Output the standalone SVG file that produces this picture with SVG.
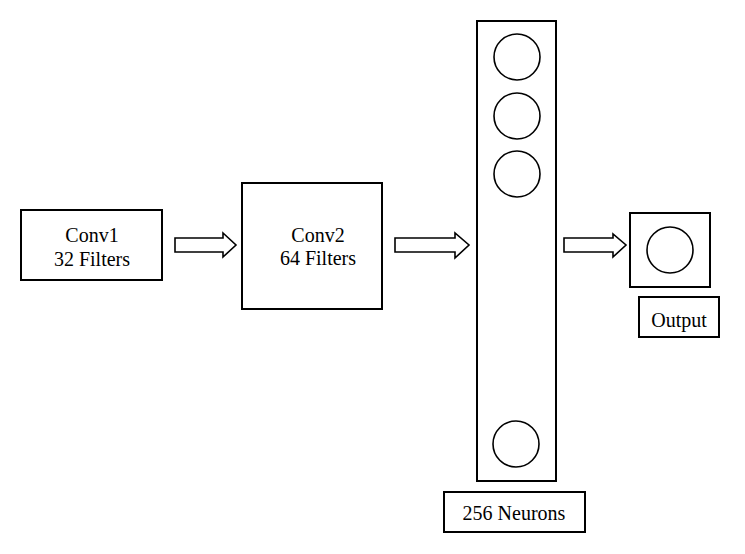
<svg xmlns="http://www.w3.org/2000/svg" width="745" height="554" viewBox="0 0 745 554">
<style>
.box{fill:#fff;stroke:#000;stroke-width:2}
.neuron{fill:#fff;stroke:#000;stroke-width:1.6}
.arrow{fill:#fff;stroke:#000;stroke-width:1.6;stroke-linejoin:miter}
.t{font-family:'Liberation Serif','DejaVu Serif',serif;font-size:20px;fill:#000;text-anchor:middle}
</style>
<rect width="745" height="554" fill="#fff"/>
<g id="conv1">
<rect class="box" x="21" y="210" width="141" height="70"/>
<text class="t" x="92" y="242" font-family="Liberation Serif, serif">Conv1</text>
<text class="t" x="92" y="266" font-family="Liberation Serif, serif">32 Filters</text>
</g>
<g id="conv2">
<rect class="box" x="242" y="183" width="140" height="126"/>
<text class="t" x="318" y="242" font-family="Liberation Serif, serif">Conv2</text>
<text class="t" x="318" y="265" font-family="Liberation Serif, serif">64 Filters</text>
</g>
<g id="dense">
<rect class="box" x="477" y="21" width="79" height="460"/>
<circle class="neuron" cx="517" cy="57" r="23"/>
<circle class="neuron" cx="517" cy="116" r="23"/>
<circle class="neuron" cx="517" cy="174" r="23"/>
<circle class="neuron" cx="516" cy="444" r="23"/>
</g>
<g id="dense-label">
<rect class="box" x="444" y="492" width="141" height="40"/>
<text class="t" x="514" y="520" font-family="Liberation Serif, serif">256 Neurons</text>
</g>
<g id="output">
<rect class="box" x="630" y="213" width="80" height="74"/>
<circle class="neuron" cx="670" cy="250" r="23"/>
</g>
<g id="output-label">
<rect class="box" x="639" y="297" width="80" height="40"/>
<text class="t" x="679" y="327" font-family="Liberation Serif, serif">Output</text>
</g>
<g id="connectors">
<polygon class="arrow" points="175,238 223,238 223,233 236,245 223,257 223,252 175,252"/>
<polygon class="arrow" points="395,238 455,238 455,233 469,245 455,258 455,252 395,252"/>
<polygon class="arrow" points="564,238 613,238 613,234 626,245 613,257 613,252 564,252"/>
</g>
</svg>
